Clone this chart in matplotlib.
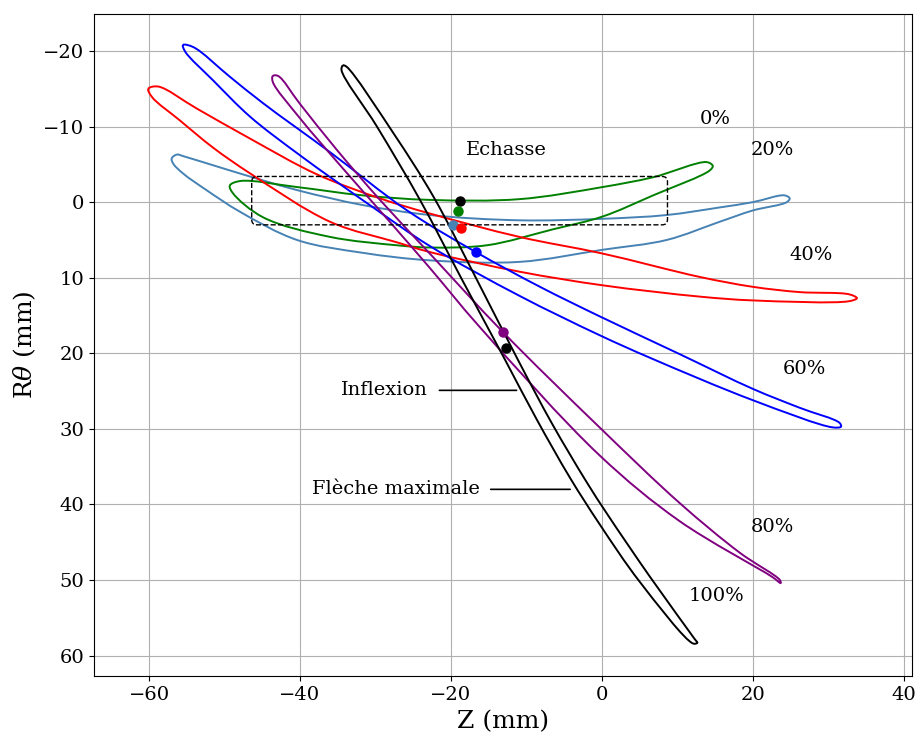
import matplotlib
matplotlib.use("Agg")
import matplotlib.pyplot as plt
import numpy as np
from matplotlib.patches import FancyBboxPatch, PathPatch
from matplotlib.path import Path

plt.rcParams['font.family'] = ['DejaVu Serif']
plt.rcParams['mathtext.fontset'] = 'dejavuserif'

# profils : (Z, R.theta) en mm, extrados puis intrados
span_labels = ['0%', '20%', '40%', '60%', '80%', '100%']
colors = ['steelblue', 'green', 'red', 'blue', 'purple', 'black']

up_z_0 = [-57.0, -56.3, -55.5, -49.3, -40.4, -31.6, -22.8, -10.9, 0.1, 8.6, 15.6, 20.0, 24.2, 24.9]
up_r_0 = [-5.8, -6.3, -6.1, -4.2, -1.6, 0.4, 1.7, 2.4, 2.2, 1.7, 0.7, 0.0, -0.9, -0.5]
lo_z_0 = [-56.8, -55.5, -52.4, -47.9, -40.4, -31.7, -22.8, -10.9, 0.1, 8.6, 15.6, 20.0, 24.5]
lo_r_0 = [-5.1, -3.8, -1.6, 1.3, 5.0, 6.7, 7.7, 7.9, 6.3, 5.0, 2.6, 1.1, 0.0]

up_z_20 = [-49.3, -47.9, -40.4, -31.7, -22.8, -10.9, 0.1, 6.8, 13.9, 14.7]
up_r_20 = [-2.2, -2.8, -2.0, -0.9, -0.3, -0.4, -2.0, -3.3, -5.3, -4.8]
lo_z_20 = [-48.9, -44.9, -36.0, -27.2, -22.8, -15.2, -6.5, 0.1, 6.8, 14.3]
lo_r_20 = [-1.2, 2.0, 4.6, 5.7, 6.0, 5.7, 3.6, 1.9, -0.9, -4.2]

up_z_40 = [-60.1, -58.8, -53.7, -46.6, -37.8, -29.4, -22.8, -10.9, 0.1, 13.0, 20.0, 26.2, 32.8, 33.8]
up_r_40 = [-15.0, -15.3, -12.4, -8.4, -3.7, -0.5, 1.5, 4.6, 6.8, 9.9, 11.2, 11.9, 12.2, 12.7]
lo_z_40 = [-59.6, -55.9, -51.5, -46.6, -36.0, -27.2, -22.8, -10.9, 0.1, 13.0, 20.0, 32.8]
lo_r_40 = [-13.9, -10.8, -7.2, -3.8, 2.6, 5.3, 6.6, 9.2, 11.0, 12.5, 13.0, 13.1]

up_z_60 = [-55.5, -54.1, -49.3, -44.9, -36.0, -25.8, -16.7, -8.2, -0.3, 10.3, 20.0, 26.2, 31.5, 31.7]
up_r_60 = [-20.8, -20.5, -16.6, -13.1, -6.6, 1.1, 6.6, 11.2, 15.1, 20.1, 24.7, 27.2, 29.2, 29.7]
lo_z_60 = [-55.2, -51.5, -46.6, -40.0, -30.3, -22.8, -10.9, -0.3, 6.4, 20.0, 30.6]
lo_r_60 = [-19.9, -16.1, -11.3, -6.2, 0.7, 5.8, 12.4, 17.6, 20.6, 26.2, 29.8]

up_z_80 = [-43.6, -42.9, -40.0, -35.1, -29.4, -22.8, -13.1, -0.3, 10.3, 18.3, 23.6, 23.7]
up_r_80 = [-16.7, -16.7, -13.0, -6.9, -0.3, 6.8, 17.2, 29.8, 39.8, 46.4, 50.0, 50.4]
lo_z_80 = [-43.6, -40.0, -34.7, -28.1, -22.8, -16.2, -0.3, 10.3, 22.6]
lo_r_80 = [-15.9, -11.1, -4.9, 2.6, 8.7, 16.5, 33.5, 42.2, 49.6]

up_z_100 = [-34.3, -33.8, -27.6, -22.3, -16.8, -11.1, -6.6, -2.1, 0.8, 6.4, 12.3, 12.65]
up_r_100 = [-18.1, -17.9, -9.1, -0.7, 9.8, 20.9, 29.3, 36.9, 41.4, 49.6, 57.8, 58.3]
lo_z_100 = [-34.5, -29.8, -24.1, -18.5, -12.8, -8.6, -4.2, -0.3, 5.0, 12.1]
lo_r_100 = [-17.5, -10.0, -0.3, 10.3, 20.9, 28.8, 36.5, 42.6, 50.2, 58.4]

profiles = [
    (up_z_0, up_r_0, lo_z_0, lo_r_0),
    (up_z_20, up_r_20, lo_z_20, lo_r_20),
    (up_z_40, up_r_40, lo_z_40, lo_r_40),
    (up_z_60, up_r_60, lo_z_60, lo_r_60),
    (up_z_80, up_r_80, lo_z_80, lo_r_80),
    (up_z_100, up_r_100, lo_z_100, lo_r_100),
]

# points remarquables
point_z = [-18.8, -19.1, -19.7, -18.7, -16.7, -13.1, -12.7]
point_r = [-0.1, 1.2, 3.0, 3.4, 6.6, 17.2, 19.3]
point_colors = ['black', 'green', 'steelblue', 'red', 'blue', 'purple', 'black']

label_z = [15.0, 22.6, 27.8, 26.8, 22.6, 15.2]
label_r = [-11.0, -6.9, 7.0, 22.1, 43.0, 52.1]

# zone de l'échasse
box_z = (-46.4, 8.7)
box_r = (-3.4, 3.0)


def closed_smooth_path(z, r):
    # Bezier par les points releves (Catmull-Rom centripete, fermee)
    p = np.column_stack([z, r])
    n = len(p)
    verts = [p[0]]
    codes = [Path.MOVETO]
    for i in range(n):
        p0, p1, p2, p3 = p[i - 1], p[i], p[(i + 1) % n], p[(i + 2) % n]
        d0 = np.linalg.norm(p1 - p0) ** 0.5
        d1 = np.linalg.norm(p2 - p1) ** 0.5
        d2 = np.linalg.norm(p3 - p2) ** 0.5
        t1 = (p1 - p0) / d0 - (p2 - p0) / (d0 + d1) + (p2 - p1) / d1
        t2 = (p2 - p1) / d1 - (p3 - p1) / (d1 + d2) + (p3 - p2) / d2
        verts += [p1 + t1 * d1 / 3, p2 - t2 * d1 / 3, p2]
        codes += [Path.CURVE4] * 3
    return Path(verts, codes)


fig, ax = plt.subplots(figsize=(9.16, 7.36), dpi=100)
fig.subplots_adjust(left=0.1026, right=0.9956, top=0.981, bottom=0.0815)

for (uz, ur, lz, lr), c in zip(profiles, colors):
    zz = list(uz) + list(lz[::-1])
    rr = list(ur) + list(lr[::-1])
    ax.add_patch(PathPatch(closed_smooth_path(zz, rr), fill=False, ec=c, lw=1.4))

for z, r, c in zip(point_z, point_r, point_colors):
    ax.plot(z, r, 'o', color=c, markersize=6.5, zorder=5)

box = FancyBboxPatch((box_z[0], box_r[0]), box_z[1] - box_z[0], box_r[1] - box_r[0],
                     boxstyle='round,pad=0,rounding_size=0.7', fill=False,
                     ls='--', lw=1.0, ec='black')
ax.add_patch(box)
ax.text(-12.7, -6.9, 'Echasse', fontsize=14, ha='center', va='center')

for lab, z, r in zip(span_labels, label_z, label_r):
    ax.text(z, r, lab, fontsize=14, ha='center', va='center')

ax.annotate('Inflexion', xy=(-11.3, 24.9), xytext=(-23.0, 24.9), fontsize=14,
            ha='right', va='center',
            arrowprops=dict(arrowstyle='-', color='black', lw=1.2, shrinkA=6, shrinkB=0))
ax.annotate('Flèche maximale', xy=(-4.2, 38.0), xytext=(-16.2, 38.0), fontsize=14,
            ha='right', va='center',
            arrowprops=dict(arrowstyle='-', color='black', lw=1.2, shrinkA=6, shrinkB=0))

ax.set_xlim(-67.3, 41.1)
ax.set_ylim(62.7, -24.9)
ax.set_xticks([-60, -40, -20, 0, 20, 40])
ax.set_yticks([-20, -10, 0, 10, 20, 30, 40, 50, 60])
ax.tick_params(labelsize=14)
ax.grid(True)
ax.set_axisbelow(True)
ax.set_xlabel('Z (mm)', fontsize=18, labelpad=5)
ax.set_ylabel(r'R$\theta$ (mm)', fontsize=18)

fig.savefig('out.png', dpi=100)
